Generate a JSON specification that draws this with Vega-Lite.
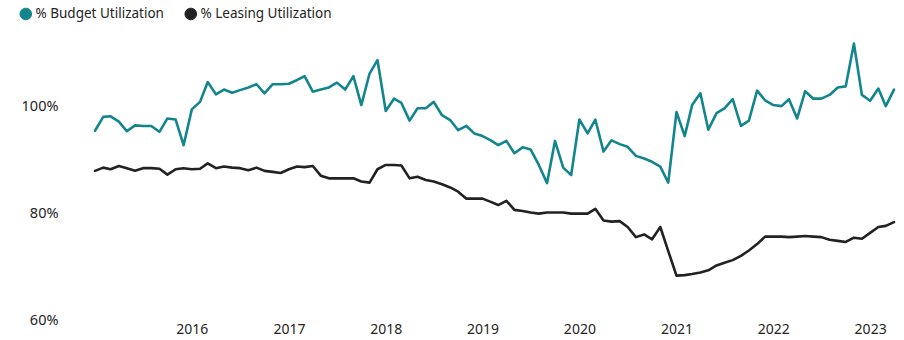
{
  "$schema": "https://vega.github.io/schema/vega-lite/v6.json",
  "width": 799,
  "height": 278,
  "autosize": "none",
  "padding": {"left": 95, "top": 42, "right": 10, "bottom": 20},
  "background": "white",
  "config": {
    "font": "Noto Sans",
    "view": {"stroke": null},
    "axis": {"labelColor": "#252423", "labelFontSize": 14, "grid": false, "domain": false, "ticks": false, "title": null}
  },
  "data": {
    "values": [
      {"d":"2015-01-01","% Budget Utilization":95.4,"% Leasing Utilization":87.9},
      {"d":"2015-02-01","% Budget Utilization":98.0,"% Leasing Utilization":88.5},
      {"d":"2015-03-01","% Budget Utilization":98.1,"% Leasing Utilization":88.2},
      {"d":"2015-04-01","% Budget Utilization":97.1,"% Leasing Utilization":88.8},
      {"d":"2015-05-01","% Budget Utilization":95.3,"% Leasing Utilization":88.4},
      {"d":"2015-06-01","% Budget Utilization":96.4,"% Leasing Utilization":87.9},
      {"d":"2015-07-01","% Budget Utilization":96.3,"% Leasing Utilization":88.4},
      {"d":"2015-08-01","% Budget Utilization":96.3,"% Leasing Utilization":88.4},
      {"d":"2015-09-01","% Budget Utilization":95.2,"% Leasing Utilization":88.3},
      {"d":"2015-10-01","% Budget Utilization":97.7,"% Leasing Utilization":87.2},
      {"d":"2015-11-01","% Budget Utilization":97.5,"% Leasing Utilization":88.2},
      {"d":"2015-12-01","% Budget Utilization":92.7,"% Leasing Utilization":88.4},
      {"d":"2016-01-01","% Budget Utilization":99.4,"% Leasing Utilization":88.2},
      {"d":"2016-02-01","% Budget Utilization":100.8,"% Leasing Utilization":88.3},
      {"d":"2016-03-01","% Budget Utilization":104.5,"% Leasing Utilization":89.3},
      {"d":"2016-04-01","% Budget Utilization":102.2,"% Leasing Utilization":88.4},
      {"d":"2016-05-01","% Budget Utilization":103.1,"% Leasing Utilization":88.7},
      {"d":"2016-06-01","% Budget Utilization":102.5,"% Leasing Utilization":88.5},
      {"d":"2016-07-01","% Budget Utilization":103.0,"% Leasing Utilization":88.4},
      {"d":"2016-08-01","% Budget Utilization":103.5,"% Leasing Utilization":88.0},
      {"d":"2016-09-01","% Budget Utilization":104.1,"% Leasing Utilization":88.5},
      {"d":"2016-10-01","% Budget Utilization":102.4,"% Leasing Utilization":87.9},
      {"d":"2016-11-01","% Budget Utilization":104.1,"% Leasing Utilization":87.7},
      {"d":"2016-12-01","% Budget Utilization":104.1,"% Leasing Utilization":87.5},
      {"d":"2017-01-01","% Budget Utilization":104.2,"% Leasing Utilization":88.2},
      {"d":"2017-02-01","% Budget Utilization":104.9,"% Leasing Utilization":88.7},
      {"d":"2017-03-01","% Budget Utilization":105.6,"% Leasing Utilization":88.6},
      {"d":"2017-04-01","% Budget Utilization":102.7,"% Leasing Utilization":88.8},
      {"d":"2017-05-01","% Budget Utilization":103.1,"% Leasing Utilization":87.0},
      {"d":"2017-06-01","% Budget Utilization":103.5,"% Leasing Utilization":86.5},
      {"d":"2017-07-01","% Budget Utilization":104.4,"% Leasing Utilization":86.5},
      {"d":"2017-08-01","% Budget Utilization":103.1,"% Leasing Utilization":86.5},
      {"d":"2017-09-01","% Budget Utilization":105.6,"% Leasing Utilization":86.5},
      {"d":"2017-10-01","% Budget Utilization":100.2,"% Leasing Utilization":85.9},
      {"d":"2017-11-01","% Budget Utilization":106.1,"% Leasing Utilization":85.7},
      {"d":"2017-12-01","% Budget Utilization":108.6,"% Leasing Utilization":88.2},
      {"d":"2018-01-01","% Budget Utilization":99.1,"% Leasing Utilization":89.0},
      {"d":"2018-02-01","% Budget Utilization":101.4,"% Leasing Utilization":89.0},
      {"d":"2018-03-01","% Budget Utilization":100.6,"% Leasing Utilization":88.9},
      {"d":"2018-04-01","% Budget Utilization":97.3,"% Leasing Utilization":86.5},
      {"d":"2018-05-01","% Budget Utilization":99.6,"% Leasing Utilization":86.8},
      {"d":"2018-06-01","% Budget Utilization":99.6,"% Leasing Utilization":86.2},
      {"d":"2018-07-01","% Budget Utilization":100.8,"% Leasing Utilization":85.9},
      {"d":"2018-08-01","% Budget Utilization":98.3,"% Leasing Utilization":85.4},
      {"d":"2018-09-01","% Budget Utilization":97.4,"% Leasing Utilization":84.8},
      {"d":"2018-10-01","% Budget Utilization":95.5,"% Leasing Utilization":84.0},
      {"d":"2018-11-01","% Budget Utilization":96.3,"% Leasing Utilization":82.7},
      {"d":"2018-12-01","% Budget Utilization":94.9,"% Leasing Utilization":82.7},
      {"d":"2019-01-01","% Budget Utilization":94.4,"% Leasing Utilization":82.7},
      {"d":"2019-02-01","% Budget Utilization":93.6,"% Leasing Utilization":82.1},
      {"d":"2019-03-01","% Budget Utilization":92.7,"% Leasing Utilization":81.5},
      {"d":"2019-04-01","% Budget Utilization":93.5,"% Leasing Utilization":82.3},
      {"d":"2019-05-01","% Budget Utilization":91.2,"% Leasing Utilization":80.6},
      {"d":"2019-06-01","% Budget Utilization":92.3,"% Leasing Utilization":80.4},
      {"d":"2019-07-01","% Budget Utilization":91.9,"% Leasing Utilization":80.1},
      {"d":"2019-08-01","% Budget Utilization":89.0,"% Leasing Utilization":79.9},
      {"d":"2019-09-01","% Budget Utilization":85.6,"% Leasing Utilization":80.1},
      {"d":"2019-10-01","% Budget Utilization":93.5,"% Leasing Utilization":80.1},
      {"d":"2019-11-01","% Budget Utilization":88.5,"% Leasing Utilization":80.1},
      {"d":"2019-12-01","% Budget Utilization":87.1,"% Leasing Utilization":79.9},
      {"d":"2020-01-01","% Budget Utilization":97.5,"% Leasing Utilization":79.9},
      {"d":"2020-02-01","% Budget Utilization":94.9,"% Leasing Utilization":79.9},
      {"d":"2020-03-01","% Budget Utilization":97.5,"% Leasing Utilization":80.8},
      {"d":"2020-04-01","% Budget Utilization":91.5,"% Leasing Utilization":78.6},
      {"d":"2020-05-01","% Budget Utilization":93.6,"% Leasing Utilization":78.4},
      {"d":"2020-06-01","% Budget Utilization":92.9,"% Leasing Utilization":78.5},
      {"d":"2020-07-01","% Budget Utilization":92.4,"% Leasing Utilization":77.4},
      {"d":"2020-08-01","% Budget Utilization":90.7,"% Leasing Utilization":75.5},
      {"d":"2020-09-01","% Budget Utilization":90.2,"% Leasing Utilization":76.0},
      {"d":"2020-10-01","% Budget Utilization":89.6,"% Leasing Utilization":75.1},
      {"d":"2020-11-01","% Budget Utilization":88.7,"% Leasing Utilization":77.4},
      {"d":"2020-12-01","% Budget Utilization":85.7,"% Leasing Utilization":72.9},
      {"d":"2021-01-01","% Budget Utilization":98.9,"% Leasing Utilization":68.3},
      {"d":"2021-02-01","% Budget Utilization":94.4,"% Leasing Utilization":68.4},
      {"d":"2021-03-01","% Budget Utilization":100.2,"% Leasing Utilization":68.6},
      {"d":"2021-04-01","% Budget Utilization":102.4,"% Leasing Utilization":68.9},
      {"d":"2021-05-01","% Budget Utilization":95.6,"% Leasing Utilization":69.3},
      {"d":"2021-06-01","% Budget Utilization":98.7,"% Leasing Utilization":70.2},
      {"d":"2021-07-01","% Budget Utilization":99.6,"% Leasing Utilization":70.7},
      {"d":"2021-08-01","% Budget Utilization":101.3,"% Leasing Utilization":71.2},
      {"d":"2021-09-01","% Budget Utilization":96.3,"% Leasing Utilization":72.0},
      {"d":"2021-10-01","% Budget Utilization":97.3,"% Leasing Utilization":73.0},
      {"d":"2021-11-01","% Budget Utilization":102.9,"% Leasing Utilization":74.2},
      {"d":"2021-12-01","% Budget Utilization":101.1,"% Leasing Utilization":75.6},
      {"d":"2022-01-01","% Budget Utilization":100.2,"% Leasing Utilization":75.6},
      {"d":"2022-02-01","% Budget Utilization":100.0,"% Leasing Utilization":75.6},
      {"d":"2022-03-01","% Budget Utilization":101.3,"% Leasing Utilization":75.5},
      {"d":"2022-04-01","% Budget Utilization":97.7,"% Leasing Utilization":75.6},
      {"d":"2022-05-01","% Budget Utilization":102.8,"% Leasing Utilization":75.7},
      {"d":"2022-06-01","% Budget Utilization":101.4,"% Leasing Utilization":75.6},
      {"d":"2022-07-01","% Budget Utilization":101.4,"% Leasing Utilization":75.5},
      {"d":"2022-08-01","% Budget Utilization":102.1,"% Leasing Utilization":75.0},
      {"d":"2022-09-01","% Budget Utilization":103.5,"% Leasing Utilization":74.8},
      {"d":"2022-10-01","% Budget Utilization":103.7,"% Leasing Utilization":74.6},
      {"d":"2022-11-01","% Budget Utilization":111.7,"% Leasing Utilization":75.4},
      {"d":"2022-12-01","% Budget Utilization":102.1,"% Leasing Utilization":75.2},
      {"d":"2023-01-01","% Budget Utilization":101.0,"% Leasing Utilization":76.3},
      {"d":"2023-02-01","% Budget Utilization":103.3,"% Leasing Utilization":77.4},
      {"d":"2023-03-01","% Budget Utilization":100.0,"% Leasing Utilization":77.6},
      {"d":"2023-04-01","% Budget Utilization":103.1,"% Leasing Utilization":78.3}
    ]
  },
  "transform": [
    {"fold": ["% Budget Utilization", "% Leasing Utilization"], "as": ["series", "value"]}
  ],
  "mark": {"type": "line", "strokeWidth": 2.6, "strokeJoin": "round", "strokeCap": "round"},
  "encoding": {
    "x": {
      "field": "d",
      "type": "temporal",
      "scale": {"type": "utc", "domain": [{"year": 2015, "month": 1, "date": 1, "utc": true}, {"year": 2023, "month": 4, "date": 1, "utc": true}]},
      "axis": {
        "format": "%Y",
        "values": [
          {"year": 2016, "month": 1, "date": 1, "utc": true},
          {"year": 2017, "month": 1, "date": 1, "utc": true},
          {"year": 2018, "month": 1, "date": 1, "utc": true},
          {"year": 2019, "month": 1, "date": 1, "utc": true},
          {"year": 2020, "month": 1, "date": 1, "utc": true},
          {"year": 2021, "month": 1, "date": 1, "utc": true},
          {"year": 2022, "month": 1, "date": 1, "utc": true},
          {"year": 2023, "month": 1, "date": 1, "utc": true}
        ],
        "labelPadding": 2,
        "labelFlush": false,
        "labelOverlap": false
      }
    },
    "y": {
      "field": "value",
      "type": "quantitative",
      "scale": {"domain": [60, 112], "nice": false, "zero": false},
      "axis": {"values": [60, 80, 100], "labelExpr": "datum.value + '%'", "labelPadding": 37, "labelFlush": false, "labelFontSize": 14.5}
    },
    "color": {
      "field": "series",
      "type": "nominal",
      "scale": {"domain": ["% Budget Utilization", "% Leasing Utilization"], "range": ["#13858d", "#222222"]},
      "legend": {
        "title": null,
        "orient": "none",
        "legendX": -76,
        "legendY": -35,
        "direction": "horizontal",
        "symbolType": "circle",
        "symbolSize": 135,
        "labelFontSize": 13.5,
        "labelColor": "#252423",
        "labelOffset": 3,
        "columnPadding": 18,
        "encode": {
          "symbols": {
            "update": {
              "fill": {"scale": "color", "field": "value"},
              "fillOpacity": {"value": 1},
              "stroke": {"scale": "color", "field": "value"},
              "strokeWidth": {"value": 1}
            }
          }
        }
      }
    }
  }
}
